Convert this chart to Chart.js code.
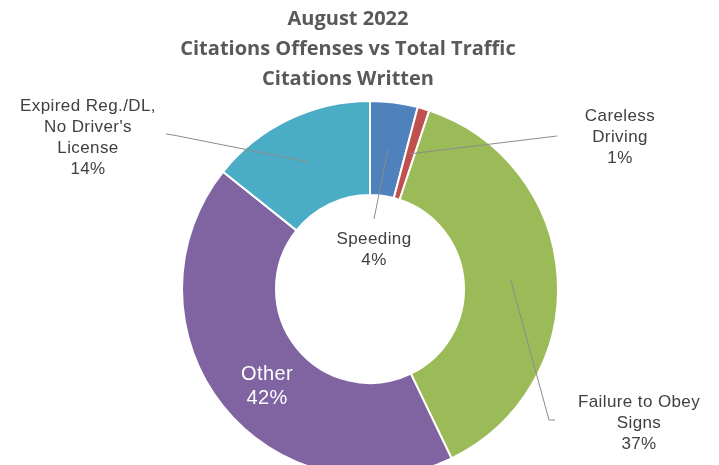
<!DOCTYPE html>
<html>
<head>
<meta charset="utf-8">
<script src="https://cdn.jsdelivr.net/npm/chart.js@4.4.1/dist/chart.umd.min.js"></script>
<style>
  html, body { margin: 0; padding: 0; background: #fff; overflow: hidden; }
  #wrap { width: 719px; height: 478px; }
</style>
</head>
<body>
<div id="wrap"><canvas id="myChart" width="719" height="478"></canvas></div>
<script>
let titleLines = ['August 2022', 'Citations Offenses vs Total Traffic', 'Citations Written'];
let categories = ['Speeding', 'Careless Driving', 'Failure to Obey Signs', 'Other', "Expired Reg./DL, No Driver's License"];
let labelLines = [['Speeding'], ['Careless', 'Driving'], ['Failure to Obey', 'Signs'], ['Other'], ['Expired Reg./DL,', "No Driver's", 'License']];
let percents = [4, 1, 37, 42, 14];
let colors = ['#4f81bd', '#c0504d', '#9bbb59', '#8064a2', '#4bacc6'];

// where each label sits and where its leader line starts
let labelSpots = [
    { x: 374, y: 239, lineFrom: [374, 219] },
    { x: 620, y: 116, lineFrom: [557, 136] },
    { x: 639, y: 402, lineFrom: [555, 420], elbow: [549, 420] },
    { x: 267, y: 374, inside: true },
    { x: 88, y: 106, lineFrom: [166, 134], elbow: [173, 135] }
];

let labelFont = 'Arial, "Liberation Sans", sans-serif';

let labelPlugin = {
    id: 'labelPlugin',
    afterDraw(chart) {
        let ctx = chart.ctx;
        ctx.save();

        // title
        ctx.fillStyle = '#595959';
        ctx.font = 'bold 20px "Open Sans"';
        ctx.textAlign = 'center';
        ctx.textBaseline = 'middle';
        for (let i = 0; i < titleLines.length; i++) {
            ctx.fillText(titleLines[i], 348, 19 + i * 30);
        }

        let arcs = chart.getDatasetMeta(0).data;
        ctx.letterSpacing = '0.4px';
        for (let i = 0; i < arcs.length; i++) {
            let spot = labelSpots[i];
            let arc = arcs[i];
            let lines = labelLines[i].concat([percents[i] + '%']);

            if (!spot.inside) {
                let mid = (arc.startAngle + arc.endAngle) / 2;
                let r = (arc.innerRadius + arc.outerRadius) / 2;
                let ex = arc.x + Math.cos(mid) * r;
                let ey = arc.y + Math.sin(mid) * r;
                ctx.strokeStyle = '#8c8c8c';
                ctx.lineWidth = 1;
                ctx.beginPath();
                ctx.moveTo(spot.lineFrom[0], spot.lineFrom[1]);
                if (spot.elbow) ctx.lineTo(spot.elbow[0], spot.elbow[1]);
                ctx.lineTo(ex, ey);
                ctx.stroke();
                ctx.fillStyle = '#404040';
                ctx.font = '17px ' + labelFont;
                for (let j = 0; j < lines.length; j++) {
                    ctx.fillText(lines[j], spot.x, spot.y + j * 21);
                }
            } else {
                ctx.fillStyle = '#ffffff';
                ctx.font = '20px ' + labelFont;
                for (let j = 0; j < lines.length; j++) {
                    ctx.fillText(lines[j], spot.x, spot.y + j * 24);
                }
            }
        }
        ctx.restore();
    }
};

let ctx = document.getElementById('myChart').getContext('2d');
let myChart = new Chart(ctx, {
    type: 'doughnut',
    data: {
        labels: categories,
        datasets: [{
            data: percents,
            backgroundColor: colors,
            borderColor: '#ffffff',
            borderWidth: 2
        }]
    },
    options: {
        responsive: false,
        animation: false,
        cutout: '50%',
        layout: { padding: { top: 100, left: 21, right: 0, bottom: 0 } },
        plugins: {
            legend: { display: false },
            tooltip: { enabled: false },
            title: { display: false }
        }
    },
    plugins: [labelPlugin]
});
</script>
</body>
</html>
